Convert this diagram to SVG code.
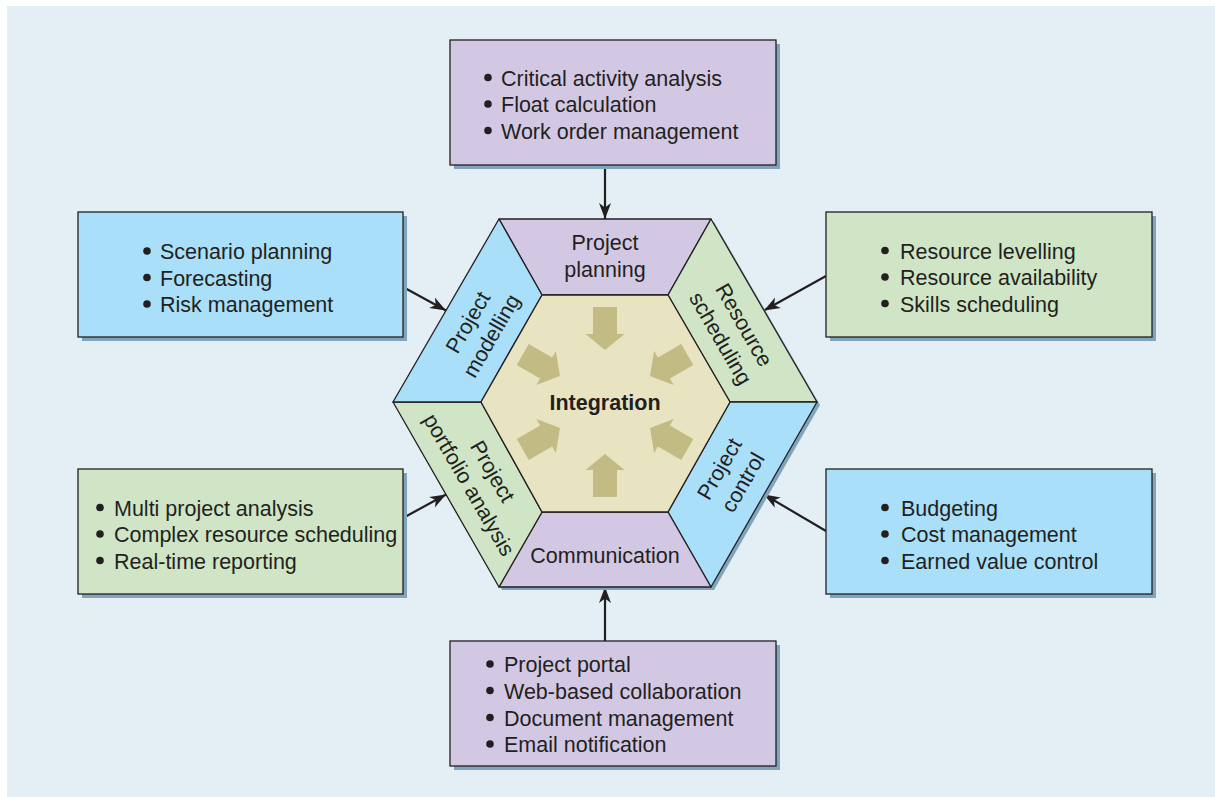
<svg xmlns="http://www.w3.org/2000/svg" width="1215" height="797" viewBox="0 0 1215 797">
<defs>
<style>
text{font-family:"Liberation Sans",Arial,Helvetica,sans-serif;font-size:21.5px;fill:#231f20}
.b{font-weight:bold}
.box{stroke:#231f20;stroke-width:1.3}
.sh{fill:#7fa4bb}
.pur{fill:#d3c8e3}
.grn{fill:#cfe5c5}
.blu{fill:#a9dff9}
.seg{stroke:#231f20;stroke-width:1.3;stroke-linejoin:round}
.dot{fill:#231f20}
.con{stroke:#231f20;stroke-width:2.2;fill:none;marker-end:url(#ah)}
.ia{fill:#c2bb84}
</style>
<marker id="ah" markerUnits="userSpaceOnUse" markerWidth="17" markerHeight="13" refX="16" refY="6.5" orient="auto">
<path d="M0,0.5 L16,6.5 L0,12.5 L4.5,6.5 Z" fill="#231f20"/>
</marker>
<path id="arw" d="M-12,-95 L12,-95 L12,-68 L19.5,-68 L0,-52 L-19.5,-68 L-12,-68 Z"/>
</defs>
<rect x="7" y="6" width="1208" height="791" fill="#e3eef5"/>

<g id="connectors">
<line class="con" x1="605" y1="165" x2="605" y2="219"/>
<line class="con" x1="605" y1="641" x2="605" y2="587"/>
<line class="con" x1="403" y1="287" x2="446" y2="310.5"/>
<line class="con" x1="826" y1="276" x2="764" y2="310.5"/>
<line class="con" x1="403" y1="518" x2="446" y2="494.5"/>
<line class="con" x1="826" y1="531" x2="764" y2="494.5"/>
</g>

<g id="hexagon">
<polygon class="sh" points="502,222 714,222 820,405 714,590 502,590 396,405"/>
<g id="seg-planning">
<polygon class="seg pur" points="499,219 711,219 668,295 542,295"/>
<text x="605" y="250" text-anchor="middle">Project</text>
<text x="605" y="277" text-anchor="middle">planning</text>
</g>
<g id="seg-resource">
<polygon class="seg grn" points="711,219 817,402 730,402 668,295"/>
<text transform="translate(732.5,331.5) rotate(60)" text-anchor="middle"><tspan x="0" y="-6">Resource</tspan><tspan x="0" y="21">scheduling</tspan></text>
</g>
<g id="seg-control">
<polygon class="seg blu" points="817,402 711,587 668,512 730,402"/>
<text transform="translate(731,475.5) rotate(-60)" text-anchor="middle"><tspan x="0" y="-6">Project</tspan><tspan x="0" y="21">control</tspan></text>
</g>
<g id="seg-communication">
<polygon class="seg pur" points="711,587 499,587 542,512 668,512"/>
<text x="605" y="563" text-anchor="middle">Communication</text>
</g>
<g id="seg-portfolio">
<polygon class="seg grn" points="499,587 393,402 481,402 542,512"/>
<text transform="translate(481,478) rotate(60)" text-anchor="middle"><tspan x="0" y="-6">Project</tspan><tspan x="0" y="21">portfolio analysis</tspan></text>
</g>
<g id="seg-modelling">
<polygon class="seg blu" points="393,402 499,219 542,295 481,402"/>
<text transform="translate(479.5,329) rotate(-60)" text-anchor="middle"><tspan x="0" y="-6">Project</tspan><tspan x="0" y="21">modelling</tspan></text>
</g>
<g id="integration">
<polygon class="seg" fill="#e8e3c1" points="542,295 668,295 730,402 668,512 542,512 481,402"/>
<g transform="translate(605,402)">
<use href="#arw" class="ia"/>
<use href="#arw" class="ia" transform="rotate(60)"/>
<use href="#arw" class="ia" transform="rotate(120)"/>
<use href="#arw" class="ia" transform="rotate(180)"/>
<use href="#arw" class="ia" transform="rotate(240)"/>
<use href="#arw" class="ia" transform="rotate(300)"/>
</g>
<text class="b" x="605" y="410" text-anchor="middle">Integration</text>
</g>
</g>

<g id="box-planning">
<rect class="sh" x="454" y="44" width="326" height="125"/>
<rect class="box pur" x="450" y="40" width="326" height="125"/>
<circle class="dot" cx="488" cy="77.5" r="3.8"/>
<circle class="dot" cx="488" cy="104" r="3.8"/>
<circle class="dot" cx="488" cy="130.5" r="3.8"/>
<text x="501" y="85.5">Critical activity analysis</text>
<text x="501" y="112">Float calculation</text>
<text x="501" y="138.5">Work order management</text>
</g>

<g id="box-modelling">
<rect class="sh" x="82" y="216" width="325" height="125"/>
<rect class="box blu" x="78" y="212" width="325" height="125"/>
<circle class="dot" cx="147" cy="251" r="3.8"/>
<circle class="dot" cx="147" cy="277.5" r="3.8"/>
<circle class="dot" cx="147" cy="304" r="3.8"/>
<text x="160" y="259">Scenario planning</text>
<text x="160" y="285.5">Forecasting</text>
<text x="160" y="312">Risk management</text>
</g>

<g id="box-resource">
<rect class="sh" x="830" y="216" width="326" height="125"/>
<rect class="box grn" x="826" y="212" width="326" height="125"/>
<circle class="dot" cx="885" cy="250.5" r="3.8"/>
<circle class="dot" cx="885" cy="277" r="3.8"/>
<circle class="dot" cx="885" cy="303.5" r="3.8"/>
<text x="900" y="258.5">Resource levelling</text>
<text x="900" y="285">Resource availability</text>
<text x="900" y="311.5">Skills scheduling</text>
</g>

<g id="box-portfolio">
<rect class="sh" x="82" y="473" width="325" height="125"/>
<rect class="box grn" x="78" y="469" width="325" height="125"/>
<circle class="dot" cx="100" cy="507.5" r="3.8"/>
<circle class="dot" cx="100" cy="534" r="3.8"/>
<circle class="dot" cx="100" cy="560.5" r="3.8"/>
<text x="114" y="515.5">Multi project analysis</text>
<text x="114" y="542">Complex resource scheduling</text>
<text x="114" y="568.5">Real-time reporting</text>
</g>

<g id="box-control">
<rect class="sh" x="830" y="473" width="326" height="125"/>
<rect class="box blu" x="826" y="469" width="326" height="125"/>
<circle class="dot" cx="885" cy="507.5" r="3.8"/>
<circle class="dot" cx="885" cy="534" r="3.8"/>
<circle class="dot" cx="885" cy="560.5" r="3.8"/>
<text x="901" y="515.5">Budgeting</text>
<text x="901" y="542">Cost management</text>
<text x="901" y="568.5">Earned value control</text>
</g>

<g id="box-communication">
<rect class="sh" x="454" y="645" width="326" height="125"/>
<rect class="box pur" x="450" y="641" width="326" height="125"/>
<circle class="dot" cx="490" cy="664" r="3.8"/>
<circle class="dot" cx="490" cy="690.5" r="3.8"/>
<circle class="dot" cx="490" cy="717.5" r="3.8"/>
<circle class="dot" cx="490" cy="744" r="3.8"/>
<text x="504" y="672">Project portal</text>
<text x="504" y="698.5">Web-based collaboration</text>
<text x="504" y="725.5">Document management</text>
<text x="504" y="752">Email notification</text>
</g>
</svg>
